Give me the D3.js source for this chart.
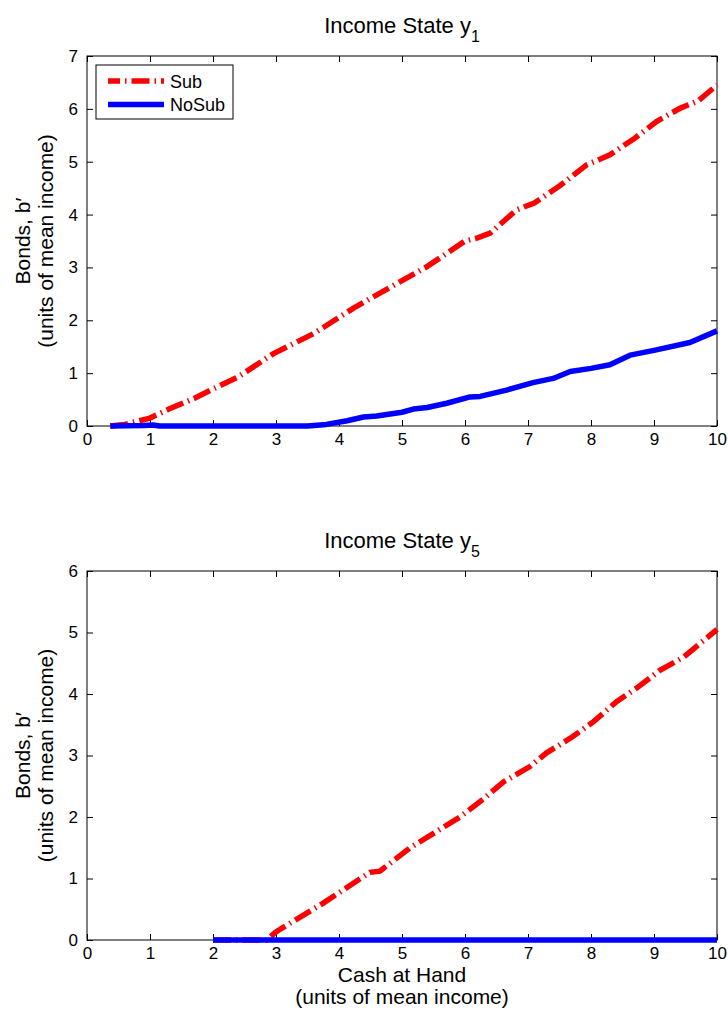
<!DOCTYPE html>
<html>
<head>
<meta charset="utf-8">
<script src="https://cdn.jsdelivr.net/npm/d3@7"></script>
<style>
  body { margin: 0; background: #fff; }
  text { font-family: "Liberation Sans", Arial, Helvetica, sans-serif; fill: #000; }
</style>
</head>
<body>
<div id="chart"></div>
<script>
// data
const xTicks = [0, 1, 2, 3, 4, 5, 6, 7, 8, 9, 10];
const yTicksTop = [0, 1, 2, 3, 4, 5, 6, 7];
const yTicksBottom = [0, 1, 2, 3, 4, 5, 6];
const seriesNames = ["Sub", "NoSub"];

// income state y1
const topSubX = [0.37, 0.6, 1.0, 1.3, 1.7, 2.0, 2.4, 2.96, 3.6, 4.23, 5.0, 5.39, 6.0, 6.2, 6.4, 6.82, 7.1, 7.51, 7.93, 8.3, 8.7, 9.04, 9.41, 9.7, 10.0];
const topSubY = [0, 0.03, 0.15, 0.32, 0.52, 0.7, 0.93, 1.37, 1.75, 2.23, 2.75, 3.01, 3.5, 3.56, 3.65, 4.09, 4.22, 4.55, 4.94, 5.13, 5.45, 5.76, 6.01, 6.15, 6.45];
const topNoSubX = [0.37, 0.9, 1.05, 1.15, 3.5, 3.8, 4.13, 4.39, 4.6, 5.0, 5.18, 5.4, 5.71, 6.08, 6.24, 6.66, 7.08, 7.4, 7.67, 8.0, 8.3, 8.62, 9.0, 9.57, 10.0];
const topNoSubY = [0, 0.01, 0.02, 0, 0, 0.03, 0.1, 0.17, 0.19, 0.26, 0.32, 0.35, 0.43, 0.55, 0.56, 0.68, 0.82, 0.9, 1.03, 1.09, 1.16, 1.34, 1.43, 1.58, 1.8];

// income state y5
const botSubX = [2.0, 2.85, 3.01, 3.75, 4.49, 4.65, 5.13, 5.92, 6.3, 6.61, 7.03, 7.29, 7.7, 8.04, 8.41, 8.73, 9.1, 9.47, 10.0];
const botSubY = [0, 0, 0.14, 0.6, 1.1, 1.12, 1.5, 2.0, 2.3, 2.57, 2.82, 3.04, 3.3, 3.55, 3.88, 4.1, 4.39, 4.6, 5.05];
const botNoSubX = [2.0, 4.0, 6.0, 8.0, 10.0];
const botNoSubY = [0, 0, 0, 0, 0];

const W = 728, H = 1021;
const svg = d3.select("#chart").append("svg")
    .attr("width", W)
    .attr("height", H);

const plotLeft = 87, plotRight = 717;
const tickFont = 17, labelFont = 21, titleFont = 22;

function zip(xs, ys) { return xs.map(function(d, i) { return [d, ys[i]]; }); }

function drawPanel(top, bottom, yTicks, sub, noSub, title, subscript, showLegend, showXLabel) {
    const x = d3.scaleLinear().domain([0, 10]).range([plotLeft, plotRight]);
    const y = d3.scaleLinear().domain([0, d3.max(yTicks)]).range([bottom, top]);
    const g = svg.append("g");

    // inward ticks on all four sides, like a matlab box
    g.append("g").attr("transform", "translate(0," + bottom + ")")
        .call(d3.axisBottom(x).tickValues(xTicks).tickSize(-6).tickPadding(7).tickFormat(d3.format("d")))
        .call(a => a.select(".domain").remove());
    g.append("g").attr("transform", "translate(0," + top + ")")
        .call(d3.axisTop(x).tickValues(xTicks).tickSize(-6).tickFormat(""))
        .call(a => a.select(".domain").remove());
    g.append("g").attr("transform", "translate(" + plotLeft + ",0)")
        .call(d3.axisLeft(y).tickValues(yTicks).tickSize(-6).tickPadding(9).tickFormat(d3.format("d")))
        .call(a => a.select(".domain").remove());
    g.append("g").attr("transform", "translate(" + plotRight + ",0)")
        .call(d3.axisRight(y).tickValues(yTicks).tickSize(-6).tickFormat(""))
        .call(a => a.select(".domain").remove());
    g.selectAll(".tick text").style("font-size", tickFont + "px")
        .style("font-family", "'Liberation Sans', Arial, sans-serif");
    g.selectAll(".tick line").attr("stroke", "#000");

    g.append("rect")
        .attr("x", plotLeft).attr("y", top)
        .attr("width", plotRight - plotLeft).attr("height", bottom - top)
        .attr("fill", "none").attr("stroke", "#000").attr("stroke-width", 1);

    const line = d3.line().x(d => x(d[0])).y(d => y(d[1]));

    g.append("path").datum(sub)
        .attr("d", line)
        .attr("fill", "none")
        .attr("stroke", "#ff0000")
        .attr("stroke-width", 5.5)
        .attr("stroke-dasharray", "18,5,1.5,5");

    g.append("path").datum(noSub)
        .attr("d", line)
        .attr("fill", "none")
        .attr("stroke", "#0000ff")
        .attr("stroke-width", 5.5)
        .attr("stroke-linejoin", "round");

    // title with subscript
    const t = g.append("text")
        .attr("x", (plotLeft + plotRight) / 2)
        .attr("y", top - 23)
        .attr("text-anchor", "middle")
        .style("font-size", titleFont + "px");
    t.append("tspan").text(title);
    t.append("tspan").attr("dy", 9).style("font-size", "16px").text(subscript);

    // y label, two lines
    const cy = (top + bottom) / 2;
    g.append("text")
        .attr("transform", "translate(30," + cy + ") rotate(-90)")
        .attr("text-anchor", "middle")
        .style("font-size", labelFont + "px")
        .text("Bonds, b\u2032");
    g.append("text")
        .attr("transform", "translate(53," + cy + ") rotate(-90)")
        .attr("text-anchor", "middle")
        .style("font-size", labelFont + "px")
        .text("(units of mean income)");

    if (showXLabel) {
        g.append("text")
            .attr("x", (plotLeft + plotRight) / 2).attr("y", bottom + 42)
            .attr("text-anchor", "middle")
            .style("font-size", labelFont + "px")
            .text("Cash at Hand");
        g.append("text")
            .attr("x", (plotLeft + plotRight) / 2).attr("y", bottom + 64)
            .attr("text-anchor", "middle")
            .style("font-size", labelFont + "px")
            .text("(units of mean income)");
    }

    if (showLegend) {
        const lg = g.append("g").attr("transform", "translate(96," + (top + 9) + ")");
        lg.append("rect")
            .attr("width", 137).attr("height", 54)
            .attr("fill", "#fff").attr("stroke", "#000").attr("stroke-width", 1);
        const styles = [
            {stroke: "#ff0000", dash: "18,5,1.5,5", off: 6},
            {stroke: "#0000ff", dash: null, off: 0}
        ];
        seriesNames.forEach(function(name, i) {
            const ly = 16 + i * 23.5;
            lg.append("line")
                .attr("x1", 12).attr("x2", 68)
                .attr("y1", ly).attr("y2", ly)
                .attr("stroke", styles[i].stroke)
                .attr("stroke-width", 5.5)
                .attr("stroke-dasharray", styles[i].dash)
                .attr("stroke-dashoffset", styles[i].off);
            lg.append("text")
                .attr("x", 74).attr("y", ly + 6.5)
                .style("font-size", "18px")
                .text(name);
        });
    }
}

drawPanel(56, 426, yTicksTop, zip(topSubX, topSubY), zip(topNoSubX, topNoSubY), "Income State y", "1", true, false);
drawPanel(571, 940, yTicksBottom, zip(botSubX, botSubY), zip(botNoSubX, botNoSubY), "Income State y", "5", false, true);
</script>
</body>
</html>
